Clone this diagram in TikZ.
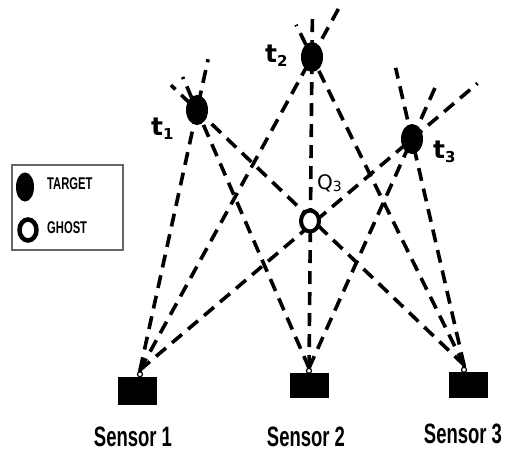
\documentclass[tikz,border=0pt]{standalone}
\usepackage{fontspec}
\setmainfont{DejaVu Sans}
\newfontfamily\narrowfont{Liberation Sans}
\usetikzlibrary{calc,shapes.geometric}
\begin{document}
\begin{tikzpicture}[x=1pt,y=-1pt,
  ray/.style={line width=3.6pt, dash pattern=on 13pt off 8pt},
  target/.style={ellipse, fill=black, minimum width=22pt, minimum height=30pt, inner sep=0pt},
  ghost/.style={ellipse, draw=black, line width=4pt, fill=white, minimum width=18pt, minimum height=21pt, inner sep=0pt},
  sensorbox/.style={rectangle, fill=black, minimum width=39pt, inner sep=0pt},
  joint/.style={circle, draw=black, fill=white, line width=1.2pt, minimum size=5pt, inner sep=0pt},
  tlabel/.style={anchor=base west, inner sep=0pt, font=\bfseries\fontsize{25}{25}\selectfont},
  sensorlabel/.style={inner sep=0pt, font=\narrowfont\bfseries\fontsize{28}{28}\selectfont},
  legendtext/.style={anchor=west, inner sep=0pt, font=\narrowfont\bfseries\fontsize{17}{17}\selectfont},
]
\useasboundingbox (0,0) rectangle (505,452);

% sensors
\node[sensorbox, minimum height=28pt] (s1) at (137.5,390.5) {};
\node[sensorbox, minimum height=25pt] (s2) at (309,385.5) {};
\node[sensorbox, minimum height=26pt] (s3) at (468.5,385) {};
\coordinate (a1) at (140,370);
\coordinate (a2) at (309,368);
\coordinate (a3) at (464,365);

% target positions
\coordinate (p1) at (197,110);
\coordinate (p2) at (312,57);
\coordinate (p3) at (412,139);

% bearing rays from each sensor through each target
\draw[ray] (a1) -- ($(p1)!-52pt!(a1)$);
\draw[ray] (a2) -- ($(p1)!-36pt!(a2)$);
\draw[ray] (a3) -- ($(p1)!-36pt!(a3)$);
\draw[ray] (a1) -- ($(p2)!-60pt!(a1)$);
\draw[ray] (a2) -- ($(p2)!-38pt!(a2)$);
\draw[ray] (a3) -- ($(p2)!-36pt!(a3)$);
\draw[ray] (a1) -- ($(p3)!-86pt!(a1)$);
\draw[ray] (a2) -- ($(p3)!-62pt!(a2)$);
\draw[ray] (a3) -- ($(p3)!-73pt!(a3)$);

% sensor stems
\foreach \i in {1,2,3} {
  \draw[line width=3.6pt] (a\i) -- (s\i.north -| a\i);
  \node[joint] (j\i) at ($(s\i.north -| a\i)+(0,-2)$) {};
}

% targets, ghost
\node[target] (t1) at (p1) {};
\node[target] (t2) at (p2) {};
\node[target] (t3) at (p3) {};
\node[ghost] (q3) at (310,221) {};

% labels
\node[tlabel] (l1) at (151,135) {t\raisebox{-4pt}{\fontsize{15}{15}\selectfont 1}};
\node[tlabel] (l2) at (265,63) {t\raisebox{-4pt}{\fontsize{15}{15}\selectfont 2}};
\node[tlabel] (l3) at (433,158) {t\raisebox{-4pt}{\fontsize{15}{15}\selectfont 3}};
\node[anchor=base west, inner sep=0pt, font=\fontsize{20}{20}\selectfont] (lq) at (317,189)
  {Q\raisebox{-2pt}{\fontsize{14}{14}\selectfont 3}};

\node[sensorlabel] (n1) at (133,437) {\scalebox{0.66}[1]{Sensor 1}};
\node[sensorlabel] (n2) at (306,437) {\scalebox{0.66}[1]{Sensor 2}};
\node[sensorlabel] (n3) at (463,434) {\scalebox{0.66}[1]{Sensor 3}};

% legend
\node[draw=black!60, line width=1.5pt, minimum width=111pt, minimum height=85pt, inner sep=0pt] (legend) at (67.5,207.5) {};
\node[target, minimum width=18pt, minimum height=29pt] (lt) at (25,187) {};
\node[ghost, minimum width=17pt, minimum height=21pt, line width=4.5pt] (lg) at (28,230) {};
\node[legendtext] (ltt) at (47,184) {\scalebox{0.66}[1]{TARGET}};
\node[legendtext] (lgt) at (47,228) {\scalebox{0.66}[1]{GHOST}};
\end{tikzpicture}
\end{document}
